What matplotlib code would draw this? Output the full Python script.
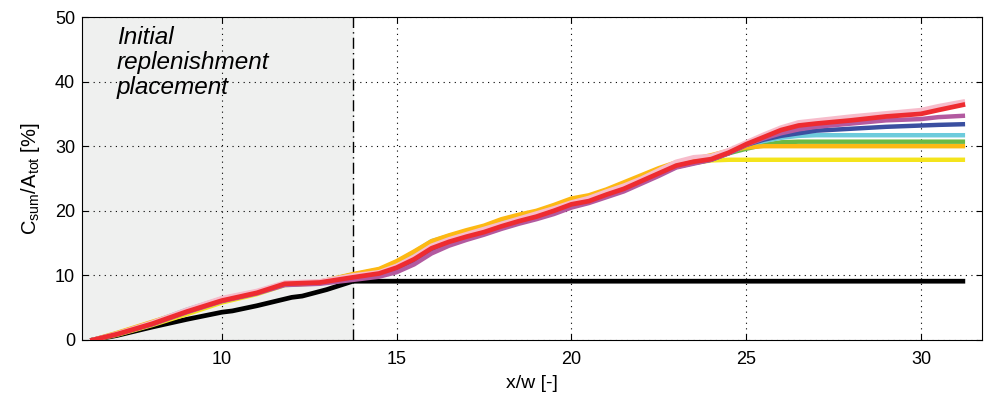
import matplotlib
matplotlib.use("Agg")
import matplotlib.pyplot as plt

plt.rcParams["font.family"] = ["Liberation Sans", "DejaVu Sans"]
plt.rcParams["mathtext.fontset"] = "custom"
plt.rcParams["mathtext.rm"] = "Liberation Sans"
plt.rcParams["mathtext.it"] = "Liberation Sans:italic"

# x positions shared by the coloured runs
x = [6.3, 7, 8, 9, 10, 11, 11.8, 12.8, 13.75, 14.5, 15, 15.5, 16, 16.5, 17, 17.5,
     18, 18.5, 19, 19.5, 20, 20.5, 21, 21.5, 22, 22.5, 23, 23.5, 24, 24.5, 25,
     25.5, 26, 26.5, 27, 28, 29, 30, 30.5, 31.2]

yellow = [0, 0.8, 2.3, 4.0, 5.8, 7.1, 8.5, 8.8, 9.8, 10.7, 11.8, 13.3, 15.0, 16.0,
          16.8, 17.5, 18.5, 19.2, 19.8, 20.7, 21.7, 22.2, 23.0, 24.0, 25.0, 26.0,
          26.8, 27.4, 27.8, 27.9, 27.9, 27.9, 27.9, 27.9, 27.9, 27.9, 27.9, 27.9,
          27.9, 27.9]
orange = [0, 1.1, 2.8, 4.5, 6.2, 7.4, 8.7, 9.0, 10.2, 11.0, 12.2, 13.7, 15.3, 16.2,
          17.0, 17.7, 18.7, 19.4, 20.0, 20.9, 21.9, 22.4, 23.3, 24.4, 25.5, 26.6,
          27.5, 28.0, 28.6, 29.3, 29.8, 30.0, 30.0, 30.0, 30.0, 30.0, 30.0, 30.0,
          30.0, 30.0]
green = [0, 1.0, 2.6, 4.5, 6.3, 7.4, 8.7, 9.0, 10.1, 10.9, 12.0, 13.5, 15.1, 16.0,
         16.8, 17.5, 18.5, 19.2, 19.8, 20.7, 21.7, 22.2, 23.1, 24.1, 25.2, 26.3,
         27.2, 27.7, 28.2, 28.9, 29.6, 30.2, 30.6, 30.7, 30.7, 30.7, 30.7, 30.7,
         30.7, 30.7]
cyan = [0, 1.0, 2.7, 4.7, 6.4, 7.5, 8.8, 9.0, 10.1, 10.8, 12.0, 13.6, 15.3, 16.1,
        16.8, 17.4, 18.3, 19.0, 19.7, 20.5, 21.5, 22.0, 22.9, 23.9, 25.0, 26.1,
        27.2, 27.8, 28.2, 29.0, 30.0, 30.8, 31.3, 31.6, 31.7, 31.7, 31.7, 31.7,
        31.7, 31.7]
blue = [0, 0.9, 2.5, 4.4, 6.1, 7.3, 8.6, 8.8, 9.5, 10.0, 10.8, 12.0, 13.8, 14.9,
        15.8, 16.5, 17.4, 18.2, 18.9, 19.8, 20.8, 21.4, 22.3, 23.2, 24.4, 25.6,
        26.8, 27.4, 27.9, 28.9, 30.2, 31.0, 31.6, 32.0, 32.4, 32.7, 33.0, 33.2,
        33.3, 33.4]
purple = [0, 0.9, 2.4, 4.3, 6.0, 7.2, 8.5, 8.7, 9.3, 9.8, 10.5, 11.7, 13.4, 14.6,
          15.5, 16.3, 17.2, 18.0, 18.7, 19.5, 20.5, 21.2, 22.1, 23.0, 24.2, 25.4,
          26.7, 27.3, 27.9, 28.9, 30.2, 31.2, 32.0, 32.6, 33.0, 33.5, 34.0, 34.2,
          34.5, 34.7]
pink = [0, 1.0, 2.7, 4.7, 6.5, 7.6, 8.9, 9.1, 10.0, 10.5, 11.5, 12.9, 14.6, 15.6,
        16.4, 17.2, 18.0, 18.8, 19.6, 20.4, 21.3, 22.0, 23.0, 23.9, 25.0, 26.3,
        27.6, 28.3, 28.5, 29.4, 30.6, 31.8, 32.9, 33.7, 34.0, 34.6, 35.1, 35.6,
        36.2, 36.9]
red = [0, 0.9, 2.5, 4.4, 6.1, 7.3, 8.7, 8.9, 9.7, 10.3, 11.2, 12.5, 14.2, 15.2,
       16.0, 16.7, 17.6, 18.4, 19.1, 20.0, 21.0, 21.5, 22.5, 23.4, 24.6, 25.8,
       27.0, 27.6, 28.0, 29.0, 30.3, 31.4, 32.5, 33.2, 33.5, 34.0, 34.6, 35.0,
       35.6, 36.4]

black_x = [6.3, 7, 8, 9, 10, 10.3, 11, 12, 12.3, 13, 13.75, 31.2]
black_y = [0, 0.7, 2.0, 3.2, 4.3, 4.5, 5.3, 6.6, 6.8, 7.8, 9.1, 9.1]

placement_end = 13.75

fig = plt.figure(figsize=(9.92, 4.0), dpi=100)
ax = fig.add_axes([0.0827, 0.15, 0.9073, 0.8075])

ax.axvspan(6, placement_end, color="#eff0ef", zorder=0)
ax.axvline(placement_end, color="black", lw=1, ls=(0, (8, 3, 1, 3)), zorder=1)

ax.plot(black_x, black_y, color="black", lw=3.4, zorder=3)
series = [
    (yellow, "#f4e41c"),
    (green, "#6bba45"),
    (cyan, "#6dcbdc"),
    (orange, "#fdb913"),
    (blue, "#3a4fa0"),
    (purple, "#b25aa0"),
    (pink, "#f7bccb"),
]
for ys, col in series:
    ax.plot(x, ys, color=col, lw=3.2, zorder=3)
ax.plot(x, red, color="#ee2b30", lw=3.4, zorder=4)

ax.set_xlim(6, 31.75)
ax.set_ylim(0, 50)
ax.set_xticks([10, 15, 20, 25, 30])
ax.set_yticks([0, 10, 20, 30, 40, 50])
ax.grid(True, color="black", ls=(0, (1, 4)), lw=0.8)
ax.set_axisbelow(False)
ax.tick_params(direction="in", length=4, labelsize=13, top=True, right=True)
ax.tick_params(axis="x", pad=8)
ax.tick_params(axis="y", pad=5)
for sp in ax.spines.values():
    sp.set_linewidth(0.8)

ax.set_xlabel("x/w [-]", fontsize=14, labelpad=5)
ax.set_ylabel("$\\mathregular{C_{sum}/A_{tot}}$ [%]", fontsize=14.5, labelpad=9)

ax.text(7.0, 48.6, "Initial\nreplenishment\nplacement", fontsize=17.5,
        style="italic", va="top", ha="left", linespacing=1.12, zorder=5)

fig.savefig("out.png", dpi=100)
